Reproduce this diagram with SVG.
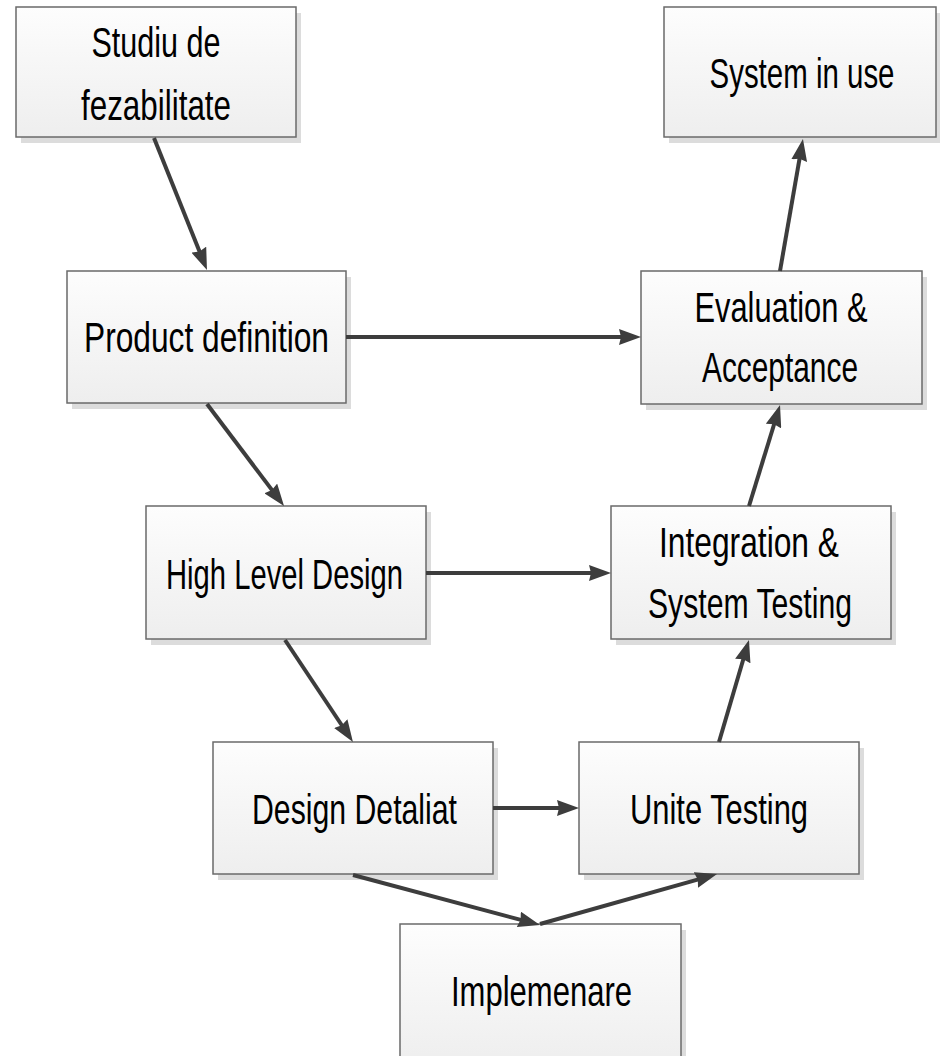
<svg xmlns="http://www.w3.org/2000/svg" width="940" height="1056" viewBox="0 0 940 1056">
  <defs>
    <linearGradient id="boxFill" x1="0" y1="0" x2="0" y2="1">
      <stop offset="0" stop-color="#fdfdfd"/>
      <stop offset="1" stop-color="#eeeeee"/>
    </linearGradient>
    <marker id="arrow" markerUnits="userSpaceOnUse" markerWidth="22" markerHeight="16" refX="10" refY="8" orient="auto" viewBox="0 0 22 16">
      <path d="M0,0 L22,8 L0,16 L2,8 z" fill="#3d3d3d"/>
    </marker>
    <style>
      .shadow { fill: #dcdcdc; }
      .box { fill: url(#boxFill); stroke: #6a6a6a; stroke-width: 1.5; }
      .label { font-family: "Liberation Sans", Arial, sans-serif; font-size: 43px; fill: #000; text-anchor: middle; }
      .conn { stroke: #3d3d3d; stroke-width: 4; fill: none; marker-end: url(#arrow); }
    </style>
  </defs>

  <rect width="940" height="1056" fill="#ffffff"/>

  <!-- nodes -->
  <g id="studiu">
    <rect class="shadow" x="21" y="13" width="280" height="130"/>
    <rect class="box" x="16" y="7" width="280" height="130"/>
    <text class="label" x="156" y="57" textLength="129" lengthAdjust="spacingAndGlyphs">Studiu de</text>
    <text class="label" x="156" y="120" textLength="150" lengthAdjust="spacingAndGlyphs">fezabilitate</text>
  </g>

  <g id="system-in-use">
    <rect class="shadow" x="669" y="13" width="271" height="130"/>
    <rect class="box" x="664" y="7" width="272" height="130"/>
    <text class="label" x="802" y="88" textLength="185" lengthAdjust="spacingAndGlyphs">System in use</text>
  </g>

  <g id="product-definition">
    <rect class="shadow" x="72" y="277" width="279" height="132"/>
    <rect class="box" x="67" y="271" width="279" height="132"/>
    <text class="label" x="206.5" y="352" textLength="245" lengthAdjust="spacingAndGlyphs">Product definition</text>
  </g>

  <g id="evaluation">
    <rect class="shadow" x="646" y="277" width="281" height="133"/>
    <rect class="box" x="641" y="271" width="281" height="133"/>
    <text class="label" x="781" y="322" textLength="173" lengthAdjust="spacingAndGlyphs">Evaluation &amp;</text>
    <text class="label" x="780" y="382" textLength="156" lengthAdjust="spacingAndGlyphs">Acceptance</text>
  </g>

  <g id="high-level-design">
    <rect class="shadow" x="151" y="512" width="280" height="133"/>
    <rect class="box" x="146" y="506" width="280" height="133"/>
    <text class="label" x="284.5" y="589" textLength="237" lengthAdjust="spacingAndGlyphs">High Level Design</text>
  </g>

  <g id="integration">
    <rect class="shadow" x="616" y="512" width="280" height="133"/>
    <rect class="box" x="611" y="506" width="280" height="133"/>
    <text class="label" x="749" y="557" textLength="180" lengthAdjust="spacingAndGlyphs">Integration &amp;</text>
    <text class="label" x="750" y="618" textLength="204" lengthAdjust="spacingAndGlyphs">System Testing</text>
  </g>

  <g id="design-detaliat">
    <rect class="shadow" x="218" y="748" width="280" height="132"/>
    <rect class="box" x="213" y="742" width="280" height="132"/>
    <text class="label" x="354.5" y="824" textLength="205" lengthAdjust="spacingAndGlyphs">Design Detaliat</text>
  </g>

  <g id="unite-testing">
    <rect class="shadow" x="584" y="748" width="280" height="132"/>
    <rect class="box" x="579" y="742" width="280" height="132"/>
    <text class="label" x="719" y="824" textLength="178" lengthAdjust="spacingAndGlyphs">Unite Testing</text>
  </g>

  <g id="implemenare">
    <rect class="shadow" x="405" y="930" width="281" height="140"/>
    <rect class="box" x="400" y="924" width="281" height="140"/>
    <text class="label" x="541.5" y="1006" textLength="181" lengthAdjust="spacingAndGlyphs">Implemenare</text>
  </g>

  <!-- connectors, drawn over the box shadows -->
  <g id="connectors">
    <line class="conn" x1="154" y1="138" x2="202.5" y2="258.9"/>
    <line class="conn" x1="207" y1="404" x2="276.8" y2="496.4"/>
    <line class="conn" x1="285" y1="640" x2="346.3" y2="732.0"/>
    <line class="conn" x1="353" y1="875" x2="528.4" y2="921.9"/>
    <line class="conn" x1="540" y1="924" x2="705.5" y2="877.3"/>
    <line class="conn" x1="719" y1="742" x2="745.6" y2="651.5"/>
    <line class="conn" x1="749" y1="506" x2="776.5" y2="416.5"/>
    <line class="conn" x1="780" y1="271" x2="800.9" y2="150.8"/>
    <line class="conn" x1="346" y1="337" x2="629" y2="337"/>
    <line class="conn" x1="426" y1="573" x2="599" y2="573"/>
    <line class="conn" x1="493" y1="808" x2="567" y2="808"/>
  </g>
</svg>
